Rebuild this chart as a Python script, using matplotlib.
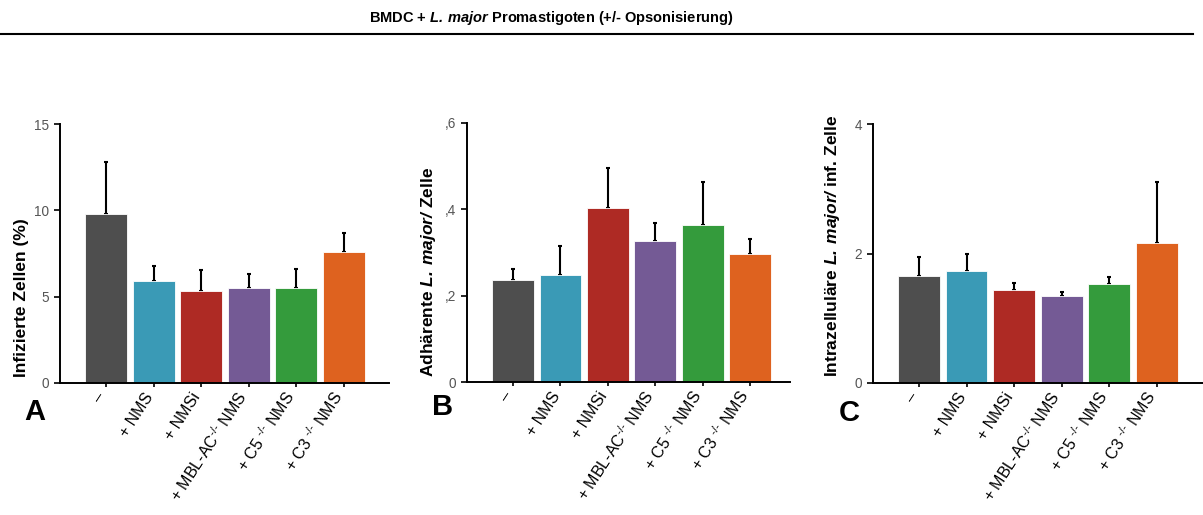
import numpy as np
import matplotlib
matplotlib.use("Agg")
import matplotlib.pyplot as plt
from matplotlib.ticker import FixedLocator, FixedFormatter

plt.rcParams["font.family"] = ["Liberation Sans", "DejaVu Sans"]
plt.rcParams["mathtext.fontset"] = "custom"
plt.rcParams["mathtext.rm"] = "Liberation Sans"
plt.rcParams["mathtext.it"] = "Liberation Sans:italic"
plt.rcParams["mathtext.bf"] = "Liberation Sans:bold"
plt.rcParams["mathtext.bfit"] = "Liberation Sans:bold:italic"

# groups and colours
groups = ["–", "+ NMS", "+ NMSi", r"+ MBL-AC$^{\text{-/-}}$ NMS",
          r"+ C5 $^{\text{-/-}}$ NMS", r"+ C3 $^{\text{-/-}}$ NMS"]
colors = ["#4e4e4e", "#3a9ab6", "#ae2a24", "#745a95", "#349b3c", "#de621f"]

# A: infected cells (%)
infected_mean = [9.8, 5.9, 5.35, 5.5, 5.5, 7.6]
infected_err = [3.0, 0.88, 1.2, 0.83, 1.12, 1.1]

# B: adherent parasites per cell
adherent_mean = [0.236, 0.248, 0.404, 0.326, 0.364, 0.296]
adherent_err = [0.026, 0.066, 0.091, 0.043, 0.100, 0.035]

# C: intracellular parasites per infected cell
intra_mean = [1.65, 1.73, 1.43, 1.345, 1.53, 2.16]
intra_err = [0.29, 0.27, 0.11, 0.065, 0.10, 0.94]

W, H = 1203, 515
fig = plt.figure(figsize=(W / 100, H / 100), dpi=100)

panels = [
    dict(rect=(60, 124, 389, 383), mean=infected_mean, err=infected_err,
         ymax=15, yticks=[0, 5, 10, 15], ylabels=["0", "5", "10", "15"],
         xlim=(-0.966, 5.945), ylabel="Infizierte Zellen (%)", ylab_x=22,
         letter="A", letter_xy=(35, 412)),
    dict(rect=(467, 123, 790, 382), mean=adherent_mean, err=adherent_err,
         ymax=0.6, yticks=[0, 0.2, 0.4, 0.6], ylabels=["0", ",2", ",4", ",6"],
         xlim=(-0.97, 5.84),
         ylabel=r"Adhärente $\mathbfit{L.\:major/}$ Zelle", ylab_x=429,
         letter="B", letter_xy=(443, 407)),
    dict(rect=(873, 124, 1203, 383), mean=intra_mean, err=intra_err,
         ymax=4, yticks=[0, 2, 4], ylabels=["0", "2", "4"],
         xlim=(-0.966, 5.97),
         ylabel=r"Intrazelluläre $\mathbfit{L.\:major/}$ inf. Zelle", ylab_x=832,
         letter="C", letter_xy=(849, 413)),
]

x = np.arange(len(groups))
for p in panels:
    l, t, r, b = p["rect"]
    ax = fig.add_axes([l / W, 1 - b / H, (r - l) / W, (b - t) / H])
    ax.bar(x, p["mean"], width=0.88, color=colors, edgecolor="white",
           linewidth=0.6, zorder=2)
    ax.errorbar(x, p["mean"], yerr=[np.zeros(len(x)), p["err"]], fmt="none",
                ecolor="black", elinewidth=1.5, capsize=1.5, capthick=1.5,
                zorder=1)
    ax.set_xlim(*p["xlim"])
    ax.set_ylim(0, p["ymax"])
    ax.yaxis.set_major_locator(FixedLocator(p["yticks"]))
    ax.yaxis.set_major_formatter(FixedFormatter(p["ylabels"]))
    ax.set_xticks(x)
    ax.set_xticklabels(groups, rotation=57, ha="right", va="baseline",
                       rotation_mode="anchor", fontsize=11.5)
    for s in ["top", "right"]:
        ax.spines[s].set_visible(False)
    for s in ["left", "bottom"]:
        ax.spines[s].set_linewidth(1.4)
    ax.tick_params(axis="y", direction="out", length=4, width=1.2,
                   labelsize=9.8, labelcolor="#555555", pad=4)
    ax.tick_params(axis="x", direction="out", length=3, width=1.2, pad=7)
    fig.text(p["ylab_x"] / W, 1 - 377 / H, p["ylabel"], rotation=90,
             ha="center", va="bottom", fontsize=12.5, fontweight="bold")
    fig.text(p["letter_xy"][0] / W, 1 - p["letter_xy"][1] / H, p["letter"],
             ha="center", va="center", fontsize=21, fontweight="bold")

fig.text(551 / W, 1 - 18 / H,
         r"BMDC + $\mathbfit{L.\:major}$ Promastigoten (+/- Opsonisierung)",
         ha="center", va="center", fontsize=10.5, fontweight="bold")
fig.add_artist(plt.Line2D([0, 1193 / W], [1 - 34 / H, 1 - 34 / H],
                          transform=fig.transFigure, color="black", linewidth=1.5))

fig.savefig("out.png", dpi=100)
